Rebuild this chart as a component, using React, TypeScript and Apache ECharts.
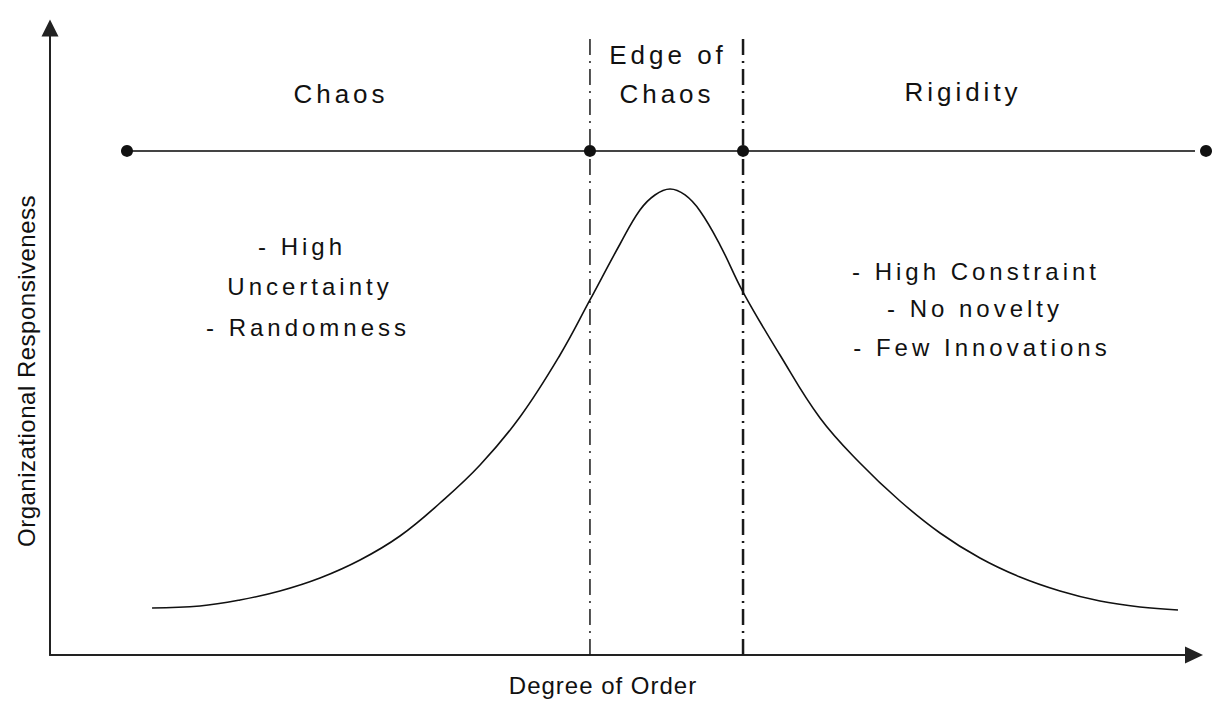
import React, { useEffect, useRef } from 'react';
import * as echarts from 'echarts';

// Bell curve: organizational responsiveness vs degree of order (0-100 scales)
const curveX = [8.92, 13.11, 16.61, 20.1, 23.6, 27.1, 30.59, 34.09, 37.59, 41.08, 44.58, 47.2, 49.83, 51.57, 52.88, 54.2, 55.51, 56.82, 58.57, 60.58, 63.81, 67.31, 70.8, 74.3, 77.8, 81.29, 84.79, 88.29, 91.78, 95.28, 98.6];
const curveY = [7.5, 7.81, 8.77, 10.21, 12.28, 15.15, 18.98, 24.24, 30.3, 37.96, 47.85, 56.62, 65.55, 70.97, 73.37, 74.32, 73.37, 70.81, 65.39, 57.89, 47.85, 37.8, 30.62, 24.56, 19.46, 15.47, 12.44, 10.21, 8.61, 7.66, 7.18];

// Regime band line with its marker points
const bandX = [6.73, 47.2, 60.58, 101.05];
const bandY = 80.4;

// Boundaries of the "Edge of Chaos"
const boundaryX = [47.2, 60.58];
const boundaryTop = 99.2;

const regionLabels = ['Chaos', 'Edge of', 'Chaos', 'Rigidity'];
const chaosNotes = ['- High', 'Uncertainty', '- Randomness'];
const rigidityNotes = ['- High Constraint', '- No novelty', '- Few Innovations'];
const axisTitles = ['Degree of Order', 'Organizational Responsiveness'];

const FONT = '"Liberation Sans", Arial, Helvetica, sans-serif';

export default function App() {
  const ref = useRef<HTMLDivElement>(null);

  useEffect(() => {
    if (!ref.current) return;
    const chart = echarts.init(ref.current, undefined, { renderer: 'svg' });

    const txt = (text: string, x: number, y: number, size: number, rotation = 0) => ({
      type: 'text',
      x,
      y,
      rotation,
      silent: true,
      style: {
        text,
        fill: '#111',
        fontSize: size,
        fontFamily: FONT,
        textAlign: 'center',
        textVerticalAlign: 'middle',
        align: 'center',
        verticalAlign: 'middle',
      },
    });

    const option: any = {
      animation: false,
      backgroundColor: '#ffffff',
      grid: { left: 50, right: 23, top: 28, bottom: 52, containLabel: false },
      xAxis: {
        type: 'value',
        min: 0,
        max: 100,
        axisLine: {
          show: true,
          symbol: ['none', 'triangle'],
          symbolSize: [17, 18],
          lineStyle: { color: '#222', width: 2 },
        },
        axisTick: { show: false },
        axisLabel: { show: false },
        splitLine: { show: false },
      },
      yAxis: {
        type: 'value',
        min: 0,
        max: 100,
        axisLine: {
          show: true,
          symbol: ['none', 'triangle'],
          symbolSize: [17, 17],
          lineStyle: { color: '#222', width: 2 },
        },
        axisTick: { show: false },
        axisLabel: { show: false },
        splitLine: { show: false },
      },
      series: [
        ...boundaryX.map((bx, i) => ({
          type: 'line',
          data: [[bx, 0], [bx, boundaryTop]],
          symbol: 'none',
          silent: true,
          clip: false,
          lineStyle: { color: '#1a1a1a', width: i === 0 ? 1.5 : 2.5, type: [16, 6, 2, 6] },
          z: 1,
        })),
        {
          type: 'line',
          data: curveX.map((x, i) => [x, curveY[i]]),
          smooth: 0.4,
          symbol: 'none',
          silent: true,
          lineStyle: { color: '#111', width: 1.6 },
          z: 2,
        },
        {
          type: 'line',
          data: bandX.map((x) => [x, bandY]),
          symbol: 'circle',
          symbolSize: 12,
          showAllSymbol: true,
          clip: false,
          silent: true,
          itemStyle: { color: '#111' },
          lineStyle: { color: '#444', width: 2 },
          z: 3,
        },
      ],
      graphic: [
        txt(regionLabels[0], 341, 94, 26),
        txt(regionLabels[1], 668, 55, 26),
        txt(regionLabels[2], 667, 94, 26),
        txt(regionLabels[3], 963, 92, 26),
        txt(chaosNotes[0], 302, 246, 24),
        txt(chaosNotes[1], 310, 286, 24),
        txt(chaosNotes[2], 308, 327, 24),
        txt(rigidityNotes[0], 976, 271, 24),
        txt(rigidityNotes[1], 975, 308, 24),
        txt(rigidityNotes[2], 982, 347, 24),
        txt(axisTitles[0], 603, 685, 24),
        txt(axisTitles[1], 26, 371, 24, Math.PI / 2),
      ],
    };

    chart.setOption(option);

    const spacing: Record<string, number> = {
      Chaos: 4,
      'Edge of': 4,
      Rigidity: 4,
      '- High': 4,
      Uncertainty: 4,
      '- Randomness': 4,
      '- High Constraint': 4,
      '- No novelty': 4,
      '- Few Innovations': 4,
      'Degree of Order': 1,
      'Organizational Responsiveness': 0.5,
    };
    ref.current.querySelectorAll('text').forEach((t) => {
      const s = spacing[(t.textContent || '').trim()];
      if (s != null) t.setAttribute('letter-spacing', String(s));
    });

    return () => chart.dispose();
  }, []);

  return (
    <div
      ref={ref}
      style={{ position: 'fixed', left: 0, top: 0, width: 1217, height: 707, background: '#fff' }}
    />
  );
}
